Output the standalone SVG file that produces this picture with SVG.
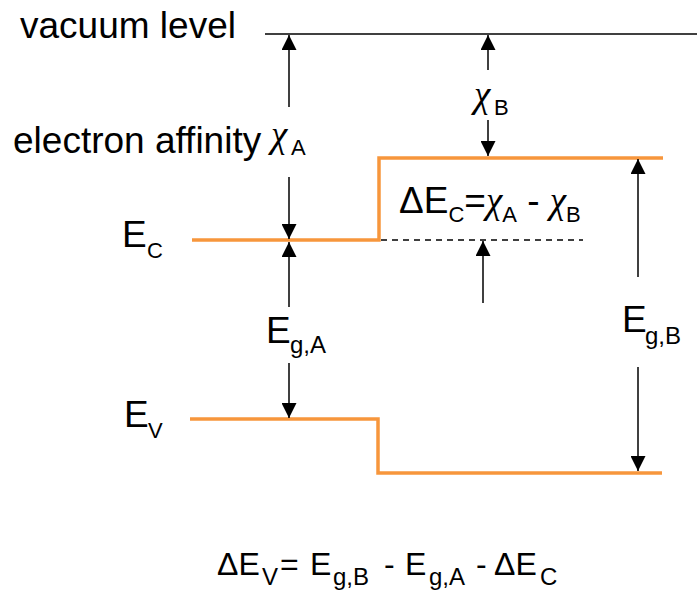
<svg xmlns="http://www.w3.org/2000/svg" width="698" height="591" viewBox="0 0 698 591">
<style>
text{font-family:"Liberation Sans",Arial,sans-serif;fill:#000;}
.main{font-size:37px;}
.sub{font-size:22px;}
.chi{font-family:"Liberation Serif","Times New Roman",serif;font-style:italic;}
.band{stroke:#f7963c;stroke-width:3.5;fill:none;}
.vac{stroke:#000;stroke-width:1.5;fill:none;}
.arr{stroke:#000;stroke-width:1.5;fill:none;marker-end:url(#ah);}
.dash{stroke:#000;stroke-width:1.5;stroke-dasharray:6 5;fill:none;}
.fs{font-size:24px;}
</style>
<defs>
<marker id="ah" markerUnits="userSpaceOnUse" markerWidth="15" markerHeight="15" viewBox="0 0 15 15" refX="15" refY="7.5" orient="auto">
<path d="M0,0 L15,7.5 L0,15 z" fill="#000"/>
</marker>
</defs>
<rect width="698" height="591" fill="#fff"/>

<g id="vacuum-level">
<line class="vac" x1="265" y1="34" x2="697" y2="34"/>
<text class="main" x="20" y="38">vacuum level</text>
</g>

<g id="electron-affinity-label">
<text class="main" x="13" y="153">electron affinity</text>
<text class="main chi" x="271" y="147">χ</text>
<text class="sub" x="291" y="155">A</text>
</g>

<g id="chi-b-label">
<text class="main chi" x="474" y="107">χ</text>
<text class="sub" x="494" y="115">B</text>
</g>

<g id="conduction-band">
<polyline class="band" points="192,240 379,240 379,158 663,158"/>
<line class="dash" x1="381" y1="240" x2="583" y2="240"/>
<text class="main" x="122" y="247">E</text>
<text class="sub" x="147" y="258">C</text>
</g>

<g id="delta-ec-label">
<text class="main" x="399" y="213">ΔE<tspan class="sub" dy="9">C</tspan><tspan dy="-9">=</tspan><tspan class="chi">χ</tspan><tspan class="sub" dy="9">A</tspan><tspan dy="-9"> - </tspan><tspan class="chi">χ</tspan><tspan class="sub" dy="9">B</tspan></text>
</g>

<g id="valence-band">
<polyline class="band" points="190,419 378,419 378,473 662,473"/>
<text class="main" x="124" y="427">E</text>
<text class="sub" x="148" y="438">V</text>
</g>

<g id="eg-a-label">
<text class="main" x="266" y="343">E</text>
<text class="fs" x="290" y="353">g,A</text>
</g>

<g id="eg-b-label">
<text class="main" x="622" y="332">E</text>
<text class="fs" x="645" y="344">g,B</text>
</g>

<g id="delta-ev-formula">
<text style="font-size:32px" y="575"><tspan x="217">ΔE</tspan><tspan class="fs" x="262" dy="10">V</tspan><tspan dy="-10" x="280">=</tspan><tspan x="310">E</tspan><tspan class="fs" x="333" dy="10">g,B</tspan><tspan dy="-10" x="384">-</tspan><tspan x="405">E</tspan><tspan class="fs" x="429" dy="10">g,A</tspan><tspan dy="-10" x="476">-</tspan><tspan x="494">ΔE</tspan><tspan class="fs" x="540" dy="10">C</tspan></text>
</g>

<g id="connectors">
<line class="arr" x1="289" y1="107" x2="289" y2="35"/>
<line class="arr" x1="289" y1="177" x2="289" y2="239"/>
<line class="arr" x1="488" y1="70" x2="488" y2="35"/>
<line class="arr" x1="488" y1="120" x2="488" y2="156"/>
<line class="arr" x1="289" y1="307" x2="289" y2="242"/>
<line class="arr" x1="289" y1="363" x2="289" y2="418"/>
<line class="arr" x1="483" y1="303" x2="483" y2="241"/>
<line class="arr" x1="638" y1="277" x2="638" y2="159"/>
<line class="arr" x1="638" y1="367" x2="638" y2="471"/>
</g>
</svg>
